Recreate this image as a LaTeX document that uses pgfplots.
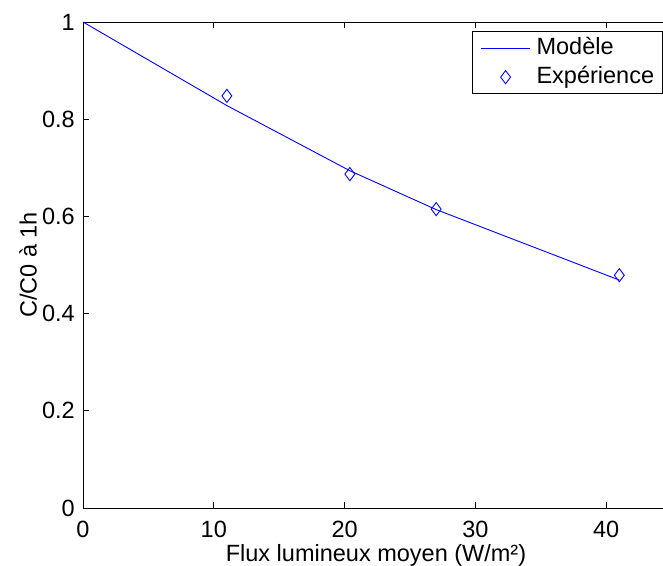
\documentclass[border=0pt]{standalone}
\usepackage{fontspec}
\setmainfont{Liberation Sans}
\usepackage{pgfplots}
\pgfplotsset{compat=1.18}
\pgfplotsset{
  lineleg/.style={legend image code/.code={\draw[##1] (0pt,0pt) -- (49pt,0pt);}},
  markleg/.style={legend image code/.code={\draw[##1] plot coordinates {(24.5pt,0pt)};}},
}
\newcommand{\F}{\fontsize{23.5}{27}\selectfont}
\begin{document}
\begin{tikzpicture}[x=1pt,y=1pt]
\begin{axis}[
  at={(0pt,0pt)}, anchor=south west,
  scale only axis, width=586pt, height=486pt,
  xmin=0, xmax=44.8, ymin=0, ymax=1,
  xtick={0,10,20,30,40},
  ytick={0,0.2,0.4,0.6,0.8,1},
  yticklabels={0,0.2,0.4,0.6,0.8,1},
  xticklabels={0,10,20,30,40},
  tick align=inside,
  major tick length=6pt,
  tick style={black, line width=0.8pt},
  axis line style={black, line width=0.8pt},
  every tick label/.append style={font=\F},
  xticklabel style={inner sep=0pt, yshift=-12.5pt},
  yticklabel style={inner sep=0pt, xshift=-8pt},
  xlabel={Flux lumineux moyen (W/m²)},
  ylabel={C/C0 à 1h},
  xlabel style={font=\F, at={(axis description cs:0.5,-0.0745)}, anchor=north, inner sep=0pt},
  ylabel style={font=\F, at={(axis description cs:-0.0785,0.5)}, anchor=south, inner sep=0pt},
  legend style={at={(axis cs:29.72,0.981)}, anchor=north west,
    draw=black, line width=0.8pt, font=\F,
    nodes={inner sep=0pt, text height=17pt, text depth=5pt},
    inner xsep=8.5pt, inner ysep=5.5pt, row sep=7pt,
    /tikz/every odd column/.append style={column sep=6pt}},
  legend cell align=left,
]
\addplot[blue, line width=0.9pt, no markers, lineleg] coordinates {
  (0,1) (11,0.828) (20.4,0.694) (27,0.614) (41,0.469)
};
\addlegendentry{Modèle}
\addplot[blue, only marks, mark=diamond, mark size=6.6pt, mark options={line width=0.9pt}, markleg] coordinates {
  (11,0.848) (20.4,0.687) (27,0.615) (41,0.479)
};
\addlegendentry{Expérience}
\end{axis}
\pgfresetboundingbox
\path[use as bounding box] (-83pt,-57pt) rectangle (580pt,508pt);
\end{tikzpicture}
\end{document}
